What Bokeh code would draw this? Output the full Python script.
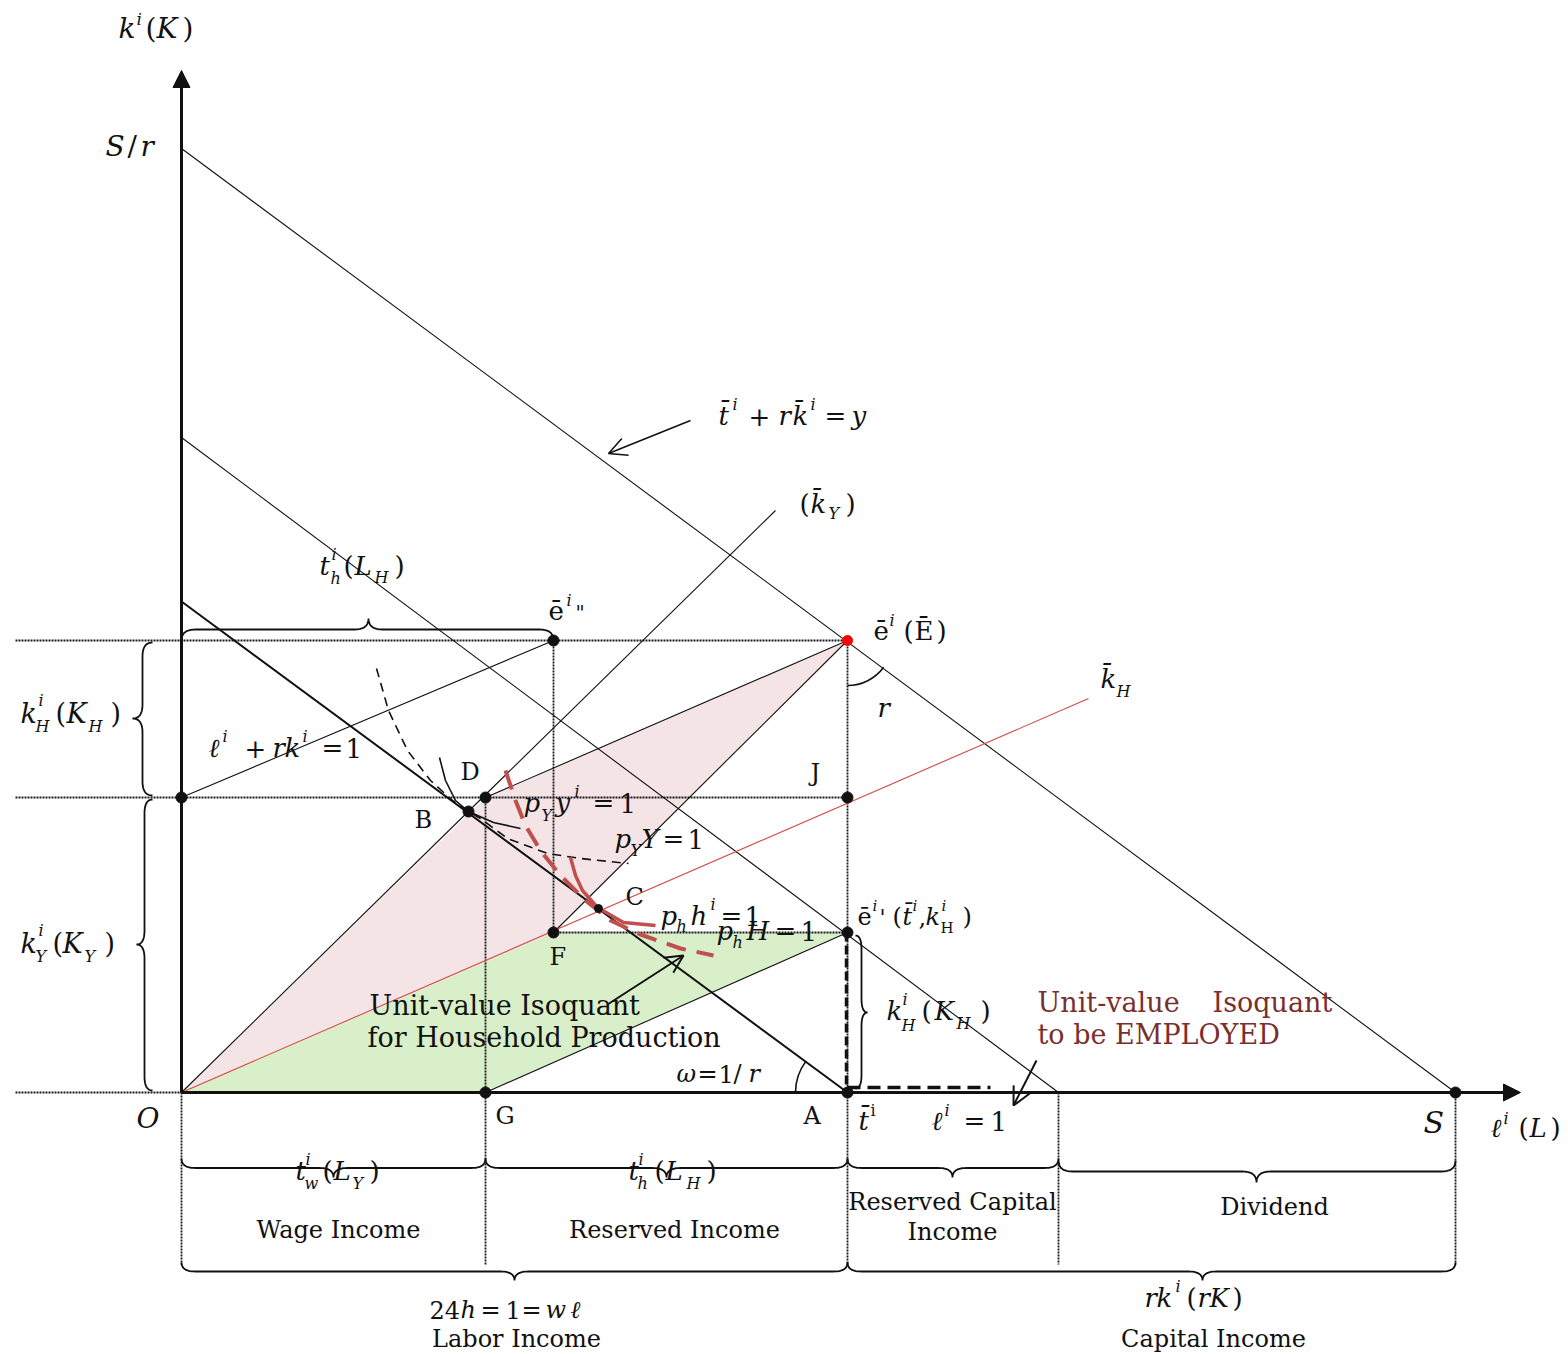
import numpy as np
from bokeh.plotting import figure
from bokeh.models import Range1d, Arrow, OpenHead, NormalHead, ColumnDataSource
from bokeh.core.properties import value
from bokeh.embed import file_html
from bokeh.resources import INLINE

# ---------------------------------------------------------------
# Key points of the diagram: leisure/labour ℓ on x, capital k on y
# ---------------------------------------------------------------
point_names = ["O", "S_r", "S", "E", "E2", "D", "B", "J", "F", "E1", "A", "G", "K0", "C"]
point_x = [0, 0, 1274, 666, 372, 304, 287, 666, 372, 666, 666, 304, 0, 417]
point_y = [0, 944, 0, 452, 452, 295, 281, 295, 160, 160, 0, 0, 295, 184]
P = {n: (x, y) for n, x, y in zip(point_names, point_x, point_y)}

# straight lines not ending on named points
omega_x, omega_y = [0, 666], [491, 0]          # ω = 1/r budget line through B to A
parallel_x, parallel_y = [0, 877], [655, 0]    # budget line through e'
ky_ray_x, ky_ray_y = [0, 594], [0, 582]        # (k̄_Y) ray
kh_ray_x, kh_ray_y = [0, 907], [0, 394]        # k̄_H ray
axis_x_end, axis_y_end = 1339, 1022
dotted_bottom = -172
employed_dash_end = 809

# isoquants
iso_Y_x = [195, 207, 226, 249, 271, 287, 299, 326, 366, 399, 447]      # p_Y Y = 1 (dashed)
iso_Y_y = [424, 382, 342, 312, 292, 281, 274, 254, 239, 234, 229]
iso_y_x = [258, 264, 274, 287, 312, 339]                                # p_Y y^i = 1
iso_y_y = [335, 312, 292, 281, 270, 264]
iso_H_x = [324, 334, 344, 359, 379, 404, 429, 459, 499, 532]           # p_h H = 1 (dashed)
iso_H_y = [322, 292, 267, 242, 217, 192, 172, 158, 144, 137]
iso_h_x = [389, 394, 401, 416, 442, 474]                                # p_h h^i = 1
iso_h_y = [235, 217, 202, 185, 170, 167]

# braces: (start, end, tip)
brace_bottom_hi = [(0, 304, 152), (304, 666, 485), (666, 877, 771), (877, 1274, 1075)]
brace_bottom_lo = [(0, 666, 333), (666, 1274, 1021)]
brace_top = [(0, 372, 187)]
brace_left = [(297, 450, 374), (2, 293, 148)]
brace_right = [(4, 157, 80)]

# ---------------------------------------------------------------
W, H = 1568, 1354
X0, Y0 = 181, 1092          # canvas pixel of the origin O
p = figure(width=W, height=H, x_range=Range1d(-X0, W - X0), y_range=Range1d(Y0 - H, Y0),
           output_backend="svg", toolbar_location=None, min_border=0,
           x_axis_location=None, y_axis_location=None)
p.grid.visible = False
p.outline_line_color = None
p.background_fill_color = "white"
p.border_fill_color = "white"

PINK, GREEN = "#f4e4e5", "#d9efc9"
RED_LINE, RED_CURVE, RED_TXT = "#d24b45", "#c0504d", "#7a2f2f"
INK = "#111111"

def pts(*names):
    return [P[n][0] for n in names], [P[n][1] for n in names]

# shaded parallelograms
xs, ys = pts("O", "D", "E", "F")
p.patch(xs, ys, fill_color=PINK, line_color=None)
xs, ys = pts("O", "F", "E1", "G")
p.patch(xs, ys, fill_color=GREEN, line_color=None)

# dotted guide lines
dot = dict(line_color="#1a1a1a", line_width=1.8, line_dash="2 1")
ex, ey = P["E"]
dy_ = P["D"][1]
p.line([-166, ex], [ey, ey], **dot)
p.line([-166, ex], [dy_, dy_], **dot)
p.line([-166, 0], [0, 0], **dot)
p.line([P["F"][0], P["E1"][0]], [P["F"][1], P["E1"][1]], **dot)
p.line([P["E2"][0], P["F"][0]], [P["E2"][1], P["F"][1]], **dot)
p.line([ex, ex], [ey, dotted_bottom], **dot)
p.line([0, 0], [0, dotted_bottom], **dot)
p.line([P["G"][0], P["G"][0]], [P["D"][1], dotted_bottom], **dot)
for gx in [parallel_x[1], P["S"][0]]:
    p.line([gx, gx], [0, dotted_bottom], **dot)

# thin straight lines
thin = dict(line_color=INK, line_width=1.1)
p.line(*pts("S_r", "S"), **thin)
p.line(parallel_x, parallel_y, **thin)
p.line(ky_ray_x, ky_ray_y, **thin)
p.line(*pts("K0", "E2"), **thin)
p.line(*pts("D", "E"), **thin)
p.line(*pts("F", "E"), **thin)
p.line(*pts("G", "E1"), **thin)
p.line(omega_x, omega_y, line_color=INK, line_width=2)
p.line(kh_ray_x, kh_ray_y, line_color=RED_LINE, line_width=1.1)

# thick dashed employed capital / labour
p.line([P["E1"][0] - 1, P["A"][0] - 1], [P["E1"][1], 0], line_color=INK, line_width=3.5, line_dash="9 4")
p.line([P["A"][0], employed_dash_end], [5, 5], line_color=INK, line_width=3.5, line_dash="13 7")

# isoquants
p.line(iso_Y_x, iso_Y_y, line_color=INK, line_width=1.6, line_dash="9 6")
p.line(iso_y_x, iso_y_y, line_color=INK, line_width=1.6)
p.line(iso_H_x, iso_H_y, line_color=RED_CURVE, line_width=4, line_dash="20 11")
p.line(iso_h_x, iso_h_y, line_color=RED_CURVE, line_width=3.5)

# angle arcs
p.arc(x=[ex], y=[ey], radius=45, start_angle=-np.pi / 2,
      end_angle=np.arctan2(-point_y[1], point_x[2]), direction="anticlock",
      line_color=INK, line_width=1.6)
p.arc(x=[P["A"][0]], y=[0], radius=52, start_angle=np.arctan2(omega_y[0], -omega_x[1]),
      end_angle=np.pi, direction="anticlock", line_color=INK, line_width=1.6)

# axes with arrow heads
p.add_layout(Arrow(end=NormalHead(size=17, fill_color=INK, line_color=INK),
                   x_start=0, y_start=0, x_end=0, y_end=axis_y_end, line_width=3, line_color=INK))
p.add_layout(Arrow(end=NormalHead(size=17, fill_color=INK, line_color=INK),
                   x_start=0, y_start=0, x_end=axis_x_end, y_end=0, line_width=3, line_color=INK))

# pointer arrows
for (x0, y0, x1, y1, lw) in [(509, 672, 427, 639, 1.5), (426, 88, 502, 137, 2), (855, 32, 832, -13, 2)]:
    p.add_layout(Arrow(end=OpenHead(size=18, line_width=lw, line_color=INK),
                       x_start=x0, y_start=y0, x_end=x1, y_end=y1,
                       line_width=lw, line_color=INK))

# braces
def brace(a, b, tip, base, depth, vertical=False, r=14, n=14):
    def q(p0, p1, p2):
        t = np.linspace(0, 1, n)[:, None]
        p0, p1, p2 = map(np.array, (p0, p1, p2))
        return (1 - t) ** 2 * p0 + 2 * (1 - t) * t * p1 + t ** 2 * p2
    h = depth / 2
    s = 1 if b > a else -1
    r1 = min(r, abs(tip - a) / 2)
    r2 = min(r, abs(b - tip) / 2)
    segs = [q((a, 0), (a, h), (a + s * r1, h)),
            q((tip - s * r1, h), (tip, h), (tip, depth)),
            q((tip, depth), (tip, h), (tip + s * r2, h)),
            q((b - s * r2, h), (b, h), (b, 0))]
    M = np.vstack(segs)
    u, v = M[:, 0], base + M[:, 1]
    return (list(v), list(u)) if vertical else (list(u), list(v))

bstyle = dict(line_color=INK, line_width=1.8)
for i, (a, b, t) in enumerate(brace_bottom_hi):
    base, depth = (-66, -19) if i < 3 else (-68, -22)
    p.line(*brace(a, b, t, base, depth), **bstyle)
for (a, b, t) in brace_bottom_lo:
    p.line(*brace(a, b, t, -170, -18), **bstyle)
for (a, b, t) in brace_top:
    p.line(*brace(a, b, t, ey, 22), **bstyle)
for (a, b, t), d in zip(brace_left, [-20, -16]):
    p.line(*brace(a, b, t, -29, d, vertical=True), **bstyle)
for (a, b, t) in brace_right:
    p.line(*brace(a, b, t, 674, 12, vertical=True), **bstyle)

# points
black_pts = ["E2", "D", "B", "J", "F", "E1", "A", "G", "K0", "S"]
p.scatter([P[n][0] for n in black_pts], [P[n][1] for n in black_pts], size=11,
          fill_color=INK, line_color=INK)
p.scatter([P["C"][0]], [P["C"][1]], size=8, fill_color=INK, line_color=INK)
p.scatter([ex], [ey], size=10, fill_color="#ff0000", line_color="#ff0000")

# ---------------------------------------------------------------
# text, laid out in canvas pixels (x, baseline y)
MATH, WORD = "DejaVu Serif", "DejaVu Serif"
BASE_RAISE = 0.36           # glyphs are anchored near mid-height; lift them onto the baseline
SS = 16                     # sub/superscript size
groups = {}

def put(px, py, s, size=26, style="normal", font=MATH, color=INK, align="left"):
    key = (size, style, font, color, align)
    g = groups.setdefault(key, dict(x=[], y=[], t=[]))
    g["x"].append(px - X0)
    g["y"].append(Y0 - py + BASE_RAISE * size)
    g["t"].append(s)

I = "italic"
tb = "t\u0304"
kb = "k\u0304"

# axis titles
for a in [(118, 38, "k", 28, I), (136, 25, "i", 17, I), (145, 38, "(", 28), (156, 38, "K", 28, I), (182, 38, ")", 28)]:
    put(*a)
for a in [(105, 156, "S", 28, I), (127, 156, "/", 28), (140, 156, "r", 28, I)]:
    put(*a)
put(136, 1128, "O", 28, I)
put(1423, 1133, "S", 30, I)
for a in [(1490, 1137, "ℓ", 26, I), (1503, 1124, "i", SS, I), (1518, 1137, "(", 26), (1529, 1137, "L", 26, I), (1550, 1137, ")", 26)]:
    put(*a)

# point letters
for s, x, y in [("G", 495, 1124), ("A", 803, 1124), ("J", 810, 781), ("D", 460, 780),
                ("B", 414, 828), ("C", 625, 905), ("F", 549, 965)]:
    put(x, y, s, 24, "normal", WORD)

# t̄^i and ℓ^i = 1 under the axis
put(858, 1130, tb, 26, I); put(870, 1116, "i", SS)
for a in [(931, 1130, "ℓ", 26, I), (944, 1116, "i", SS, I), (963, 1130, "=", 26), (990, 1130, "1", 26)]:
    put(*a)

# ω = 1/r
for a in [(676, 1082, "ω", 24, I), (697, 1082, "=", 24), (718, 1082, "1", 24), (733, 1082, "/", 24), (748, 1082, "r", 24, I)]:
    put(*a)

# isoquant captions
put(369, 1015, "Unit-value Isoquant", 27, "normal", WORD)
put(367, 1047, "for Household Production", 27, "normal", WORD)
put(1037, 1012, "Unit-value", 27, "normal", WORD, RED_TXT)
put(1212, 1012, "Isoquant", 27, "normal", WORD, RED_TXT)
put(1037, 1044, "to be EMPLOYED", 27, "normal", WORD, RED_TXT)

# k_H^i(K_H) beside employed capital
for a in [(886, 1020, "k", 26, I), (902, 1005, "i", SS, I), (901, 1031, "H", SS, I), (921, 1020, "(", 26),
          (934, 1020, "K", 26, I), (956, 1029, "H", SS, I), (980, 1020, ")", 26)]:
    put(*a)

# ē^i'(t̄^i, k_H^i)
for a in [(857, 925, "ē", 24), (872, 911, "i", 15, I), (879, 925, "'", 22), (892, 925, "(", 24), (902, 925, tb, 24, I),
          (912, 911, "i", 15, I), (918, 925, ",", 24), (925, 925, "k", 24, I), (941, 911, "i", 15, I),
          (940, 933, "H", 15), (962, 925, ")", 24)]:
    put(*a)

# ē^i(Ē)
for a in [(873, 640, "ē", 26), (889, 626, "i", SS, I), (903, 640, "(", 26), (914, 640, "Ē", 26), (936, 640, ")", 26)]:
    put(*a)
put(877, 717, "r", 26, I)
put(1100, 688, kb, 26, I); put(1116, 697, "H", SS, I)

# isoquant equations
for a in [(523, 812, "p", 26, I), (541, 821, "Y", SS, I), (555, 812, "y", 26, I), (574, 797, "i", SS, I),
          (592, 812, "=", 26), (619, 812, "1", 26)]:
    put(*a)
for a in [(614, 848, "p", 26, I), (630, 856, "Y", SS, I), (641, 848, "Y", 26, I), (662, 848, "=", 26), (687, 848, "1", 26)]:
    put(*a)
for a in [(660, 925, "p", 26, I), (676, 932, "h", SS, I), (690, 925, "h", 26, I), (710, 910, "i", SS, I),
          (720, 925, "=", 26), (744, 925, "1", 26)]:
    put(*a)
for a in [(716, 940, "p", 26, I), (732, 948, "h", SS, I), (746, 940, "H", 26, I), (774, 940, "=", 26), (800, 940, "1", 26)]:
    put(*a)

# (k̄_Y) and the income line
for a in [(799, 513, "(", 26), (810, 513, kb, 26, I), (828, 519, "Y", SS, I), (845, 513, ")", 26)]:
    put(*a)
for a in [(718, 425, tb, 26, I), (732, 410, "i", SS, I), (748, 425, "+", 26), (778, 425, "r", 26, I), (792, 425, kb, 26, I),
          (810, 410, "i", SS, I), (824, 425, "=", 26), (851, 425, "y", 26, I)]:
    put(*a)
for a in [(548, 620, "ē", 26), (566, 606, "i", SS, I), (575, 620, "\"", 20)]:
    put(*a)

# t_h^i(L_H) above
for a in [(319, 575, "t", 26, I), (331, 560, "i", SS, I), (330, 584, "h", SS, I), (343, 575, "(", 26),
          (354, 575, "L", 26, I), (374, 583, "H", SS, I), (394, 575, ")", 26)]:
    put(*a)

# ℓ^i + rk^i = 1
for a in [(208, 757, "ℓ", 26, I), (222, 742, "i", SS, I), (244, 757, "+", 26), (272, 757, "r", 26, I), (284, 757, "k", 26, I),
          (302, 742, "i", SS, I), (321, 757, "=", 26), (345, 757, "1", 26)]:
    put(*a)

# left brace labels
for a in [(20, 723, "k", 27, I), (38, 706, "i", SS, I), (35, 732, "H", SS, I), (55, 723, "(", 27),
          (66, 723, "K", 27, I), (88, 732, "H", SS, I), (110, 723, ")", 27)]:
    put(*a)
for a in [(20, 953, "k", 27, I), (38, 936, "i", SS, I), (35, 962, "Y", SS, I), (52, 953, "(", 27),
          (62, 953, "K", 27, I), (84, 962, "Y", SS, I), (104, 953, ")", 27)]:
    put(*a)

# bottom brace labels
for a in [(295, 1180, "t", 26, I), (305, 1165, "i", SS, I), (304, 1189, "w", SS, I), (322, 1180, "(", 26),
          (333, 1180, "L", 26, I), (352, 1189, "Y", SS, I), (369, 1180, ")", 26)]:
    put(*a)
for a in [(628, 1180, "t", 26, I), (638, 1165, "i", SS, I), (637, 1189, "h", SS, I), (654, 1180, "(", 26),
          (665, 1180, "L", 26, I), (686, 1189, "H", SS, I), (706, 1180, ")", 26)]:
    put(*a)
for s, x, y in [("Wage Income", 338, 1238), ("Reserved Income", 674, 1238), ("Reserved Capital", 952, 1210),
                ("Income", 952, 1240), ("Dividend", 1274, 1215), ("Labor Income", 516, 1347),
                ("Capital Income", 1213, 1347)]:
    put(x, y, s, 24, "normal", WORD, INK, "center")
for a in [(429, 1318, "24", 24), (460, 1318, "h", 24, I), (480, 1318, "=", 24), (505, 1318, "1", 24),
          (521, 1318, "=", 24), (545, 1318, "w", 24, I), (570, 1318, "ℓ", 24, I)]:
    put(*a)
for a in [(1144, 1307, "r", 26, I), (1156, 1307, "k", 26, I), (1175, 1292, "i", SS, I), (1186, 1307, "(", 26),
          (1197, 1307, "r", 26, I), (1209, 1307, "K", 26, I), (1232, 1307, ")", 26)]:
    put(*a)

for (size, style, font, color, align), g in groups.items():
    src = ColumnDataSource(dict(x=g["x"], y=g["y"], text=g["t"]))
    p.text(x="x", y="y", text="text", source=src, text_font=value(font),
           text_font_size=f"{size}px", text_font_style=style, text_color=color,
           text_align=align, text_baseline="alphabetic")

open("out.html", "w").write(file_html(p, INLINE))
